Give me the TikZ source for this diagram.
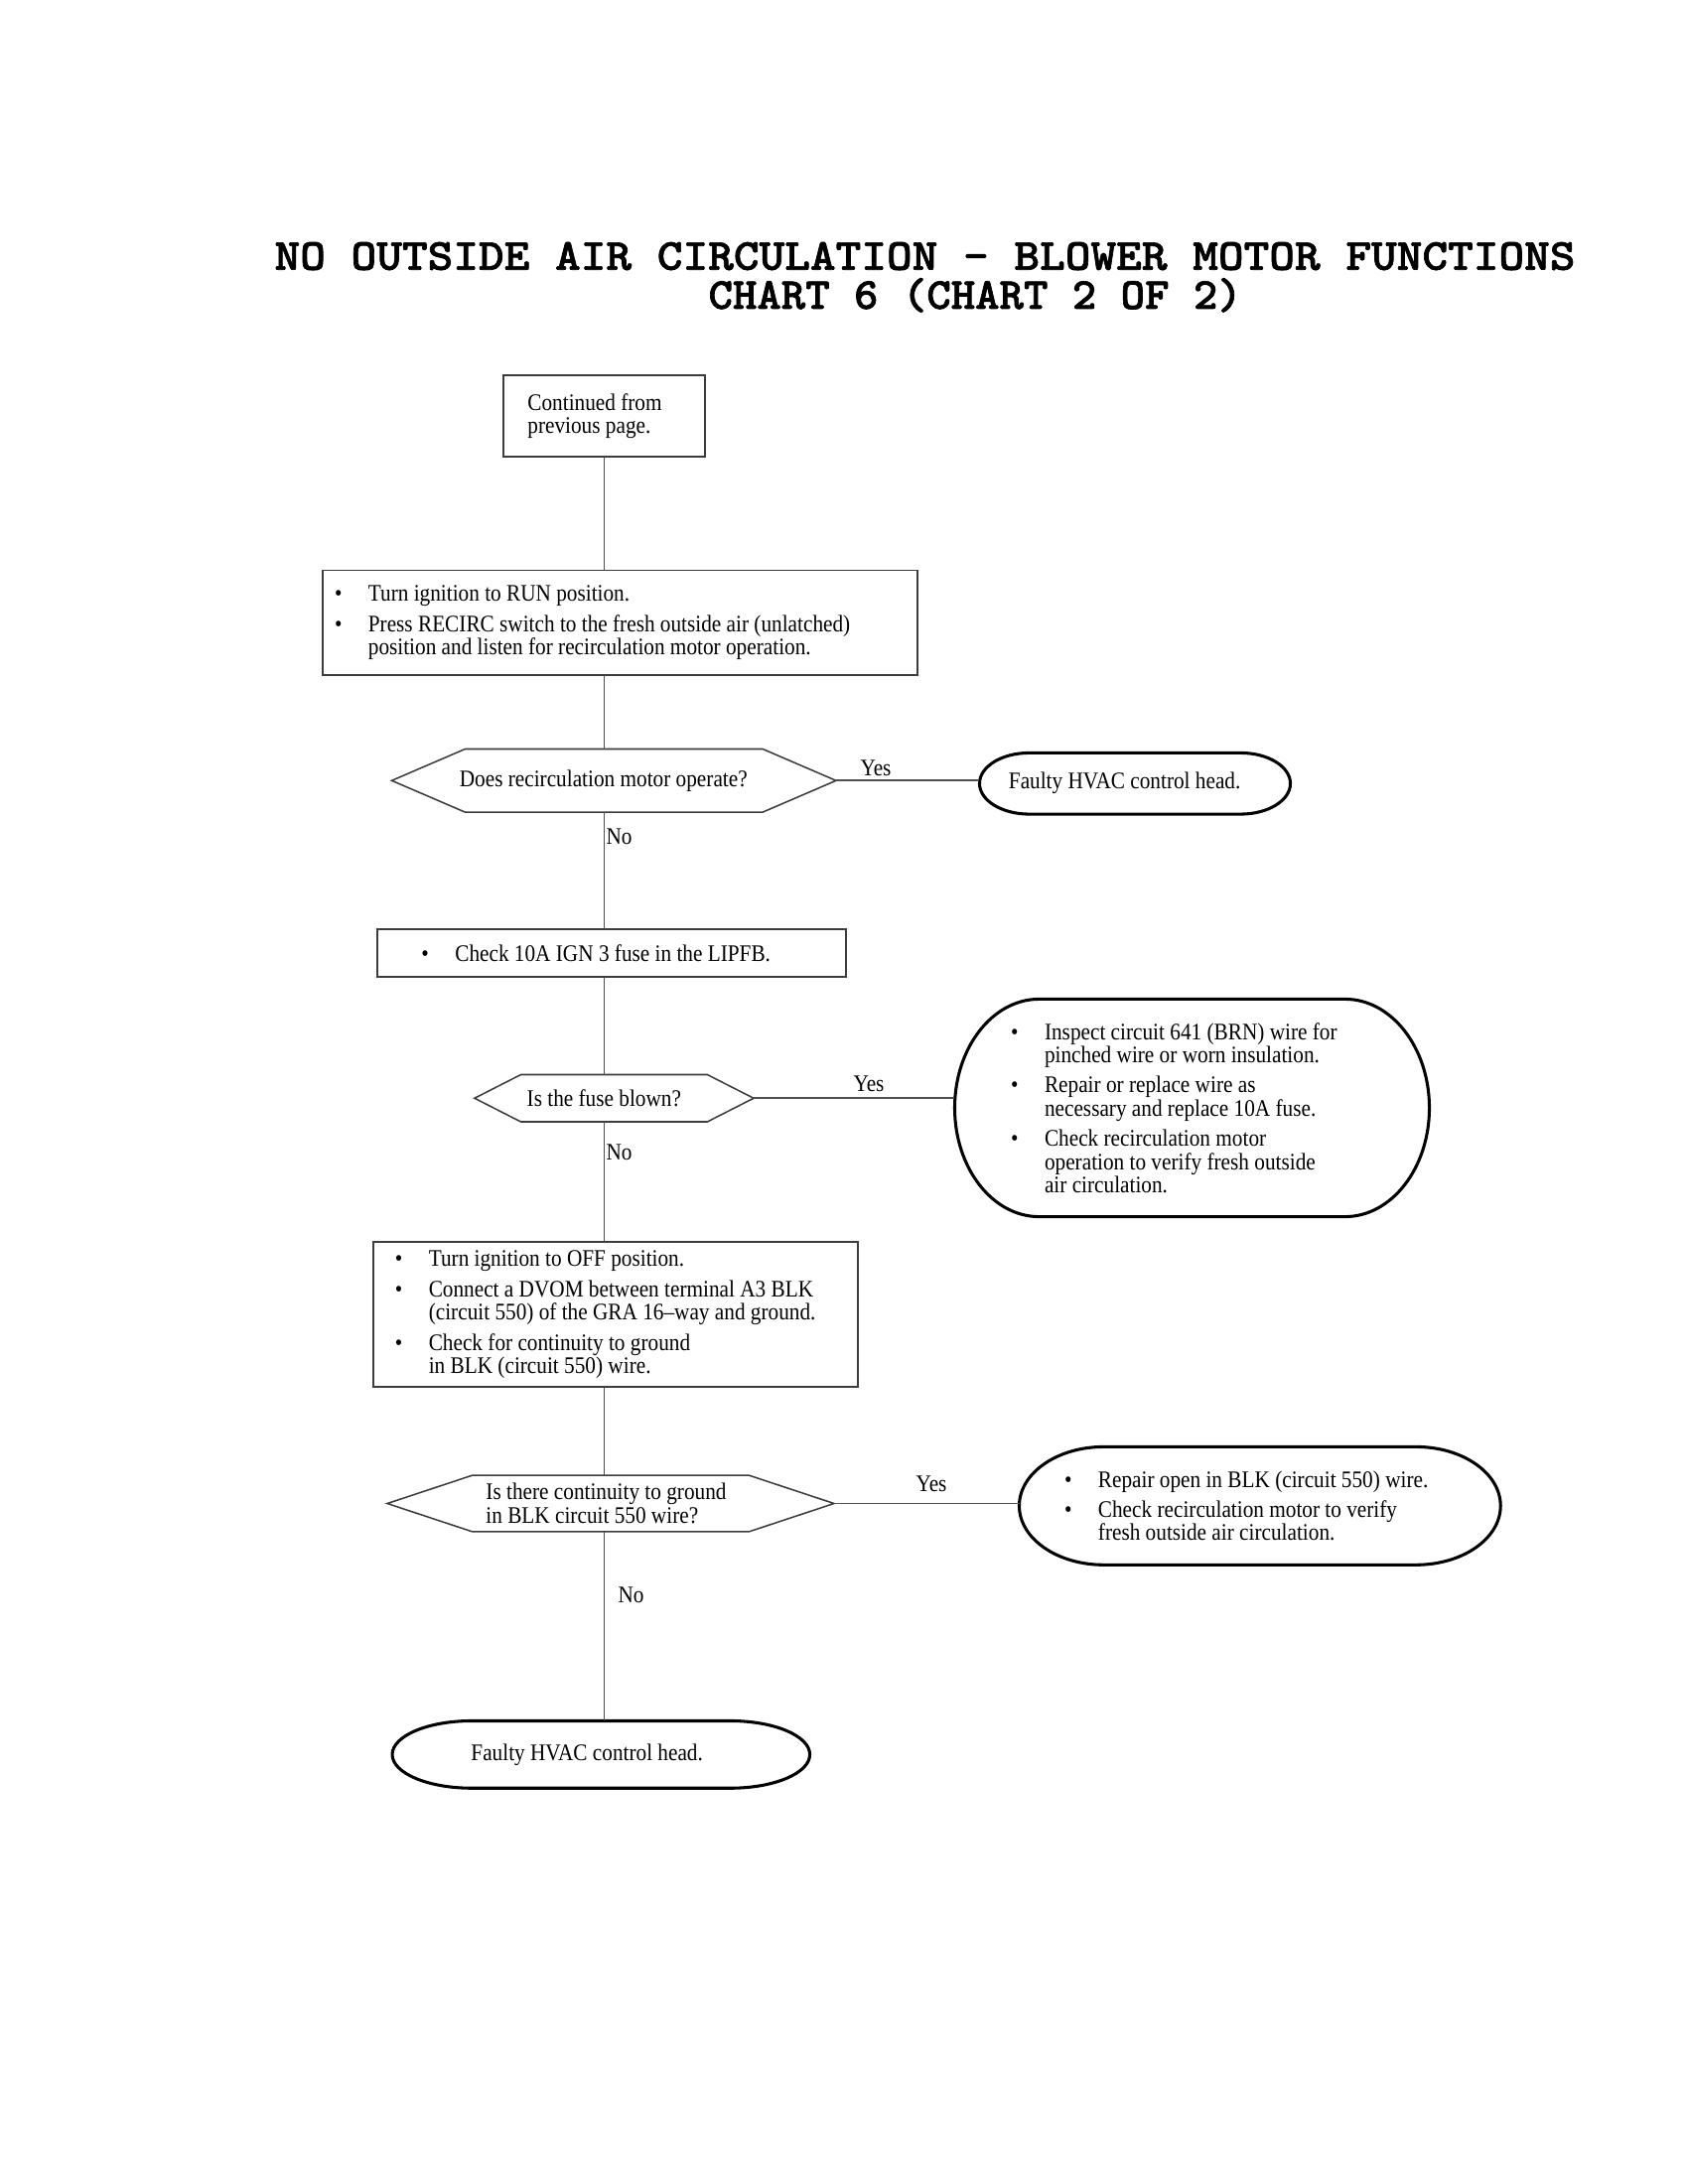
\documentclass[tikz,border=0pt]{standalone}
\usepackage{fontspec}
\setmainfont{Liberation Serif}[FakeStretch=0.89]
\newfontfamily\titlefont{lmmonolt10-bold.otf}[FakeStretch=1.094, FakeBold=1.5]
\newfontfamily\subtitlefont{lmmonolt10-bold.otf}[FakeStretch=1.04, FakeBold=1.5]
\usetikzlibrary{calc}

\definecolor{boxgray}{RGB}{60,60,60}
\definecolor{linegray}{RGB}{80,80,80}

\newcommand{\bodysize}{\fontsize{8.6pt}{8.4pt}\selectfont}
\newcommand{\bul}{\makebox[12.2pt][l]{\textbullet}}
\newcommand{\ind}{\hspace*{12.2pt}}
\newcommand{\gap}{\\[2.6pt]}

% outline of a decision node: #1 node, #2 indent of the points
\newcommand{\hexout}[2]{%
  \draw[hexline] (#1.west) -- ([xshift=#2]#1.north west) -- ([xshift=-#2]#1.north east)
    -- (#1.east) -- ([xshift=-#2]#1.south east) -- ([xshift=#2]#1.south west) -- cycle;}
% outline of an end node: #1 node, #2 horizontal radius of the ends
\newcommand{\termout}[2]{%
  \draw[termline] let \p1=(#1.north east), \p2=(#1.south west) in
    ([xshift=#2]#1.north west) -- ([xshift=-#2]#1.north east)
    arc[start angle=90, end angle=-90, x radius=#2, y radius={(\y1)/2-(\y2)/2}]
    -- ([xshift=#2]#1.south west)
    arc[start angle=270, end angle=90, x radius=#2, y radius={(\y1)/2-(\y2)/2}] -- cycle;}

\tikzset{
  flowtext/.style={font=\bodysize, inner ysep=0pt, align=flush left,
    execute at begin node={\spaceskip=0pt\xspaceskip=0pt\relax}},
  stepbox/.style n args={3}{flowtext, rectangle, draw=boxgray, line width=0.7pt,
    text width=#1, minimum height=#2, inner xsep=#3},
  askbox/.style n args={3}{flowtext, rectangle, text width=#1, minimum height=#2, inner xsep=#3},
  hexline/.style={draw=boxgray, line width=0.55pt},
  termline/.style={draw=black, line width=1.1pt},
  link/.style={draw=linegray, line width=0.6pt},
  lbl/.style={font=\bodysize, inner sep=0pt},
  heading/.style={inner sep=0pt, anchor=base west},
}

\begin{document}
\begin{tikzpicture}[x=0.36pt, y=0.36pt]
  \fill[white] (0,0) rectangle (1700,-2200);
  \useasboundingbox (0,0) rectangle (1700,-2200);

  \node[heading, font=\titlefont\fontsize{16.1pt}{19pt}\selectfont] (title1) at (276,-271.7)
    {NO OUTSIDE AIR CIRCULATION – BLOWER MOTOR FUNCTIONS};
  \node[heading, font=\subtitlefont\fontsize{16.1pt}{19pt}\selectfont] (title2) at (713,-311)
    {CHART 6 (CHART 2 OF 2)};

  \node[stepbox={55.5pt}{29.5pt}{8.8pt}] (cont) at (608.5,-419) {Continued from\\previous page.};
  \node[stepbox={207pt}{38pt}{4.3pt}] (run) at (624.5,-627.25)
    {\bul Turn ignition to RUN position.\gap
     \bul Press RECIRC switch to the fresh outside air (unlatched)\\
     \ind position and listen for recirculation motor operation.};
  \node[askbox={111.9pt}{22.5pt}{24.4pt}] (dec1) at (618.25,-786.3) {Does recirculation motor operate?};
  \node[askbox={91.5pt}{21.8pt}{10.4pt}] (term1) at (1143,-789.25) {Faulty HVAC control head.};

  \node[stepbox={137.9pt}{17.3pt}{16pt}] (fuse) at (616,-960) {\bul Check 10A IGN 3 fuse in the LIPFB.};
  \node[askbox={63.2pt}{16.7pt}{18.8pt}] (dec2) at (618.45,-1106.25) {Is the fuse blown?};
  \node[askbox={131.3pt}{78.5pt}{20.2pt}] (term2) at (1200.5,-1116)
    {\bul Inspect circuit 641 (BRN) wire for\\
     \ind pinched wire or worn insulation.\gap
     \bul Repair or replace wire as\\
     \ind necessary and replace 10A fuse.\gap
     \bul Check recirculation motor\\
     \ind operation to verify fresh outside\\
     \ind air circulation.};

  \node[stepbox={159.9pt}{52.7pt}{7.9pt}] (off) at (620,-1324.25)
    {\bul Turn ignition to OFF position.\gap
     \bul Connect a DVOM between terminal A3 BLK\\
     \ind (circuit 550) of the GRA 16–way and ground.\gap
     \bul Check for continuity to ground\\
     \ind in BLK (circuit 550) wire.};
  \node[askbox={90.4pt}{20pt}{35.6pt}] (dec3) at (615,-1514.5)
    {Is there continuity to ground\\in BLK circuit 550 wire?};
  \node[askbox={141.7pt}{42.4pt}{16.2pt}] (term3) at (1268.85,-1516.85)
    {\bul Repair open in BLK (circuit 550) wire.\gap
     \bul Check recirculation motor to verify\\
     \ind fresh outside air circulation.};
  \node[askbox={94.2pt}{24pt}{28.4pt}] (term4) at (605.3,-1767.35) {Faulty HVAC control head.};

  \hexout{dec1}{26.6pt}
  \hexout{dec2}{16.8pt}
  \hexout{dec3}{30.8pt}
  \termout{term1}{18pt}
  \termout{term2}{30.6pt}
  \termout{term3}{30.6pt}
  \termout{term4}{28.8pt}

  \draw[link] (cont.south) -- (cont.south |- run.north);
  \draw[link] (cont.south |- run.south) -- (cont.south |- dec1.north);
  \draw[link] (dec1.east) -- (dec1.east -| term1.west);
  \draw[link] (cont.south |- dec1.south) -- (cont.south |- fuse.north);
  \draw[link] (cont.south |- fuse.south) -- (cont.south |- dec2.north);
  \draw[link] (dec2.east) -- (dec2.east -| term2.west);
  \draw[link] (cont.south |- dec2.south) -- (cont.south |- off.north);
  \draw[link] (cont.south |- off.south) -- (cont.south |- dec3.north);
  \draw[link] (dec3.east) -- (dec3.east -| term3.west);
  \draw[link] (cont.south |- dec3.south) -- (cont.south |- term4.north);

  \node[lbl, anchor=base] (yes1) at (882,-781.5) {Yes};
  \node[lbl, anchor=base west] (no1) at (610,-850) {No};
  \node[lbl, anchor=base] (yes2) at (875,-1099.6) {Yes};
  \node[lbl, anchor=base west] (no2) at (610,-1168) {No};
  \node[lbl, anchor=base] (yes3) at (938,-1502.7) {Yes};
  \node[lbl, anchor=base west] (no3) at (622,-1614) {No};
\end{tikzpicture}
\end{document}
